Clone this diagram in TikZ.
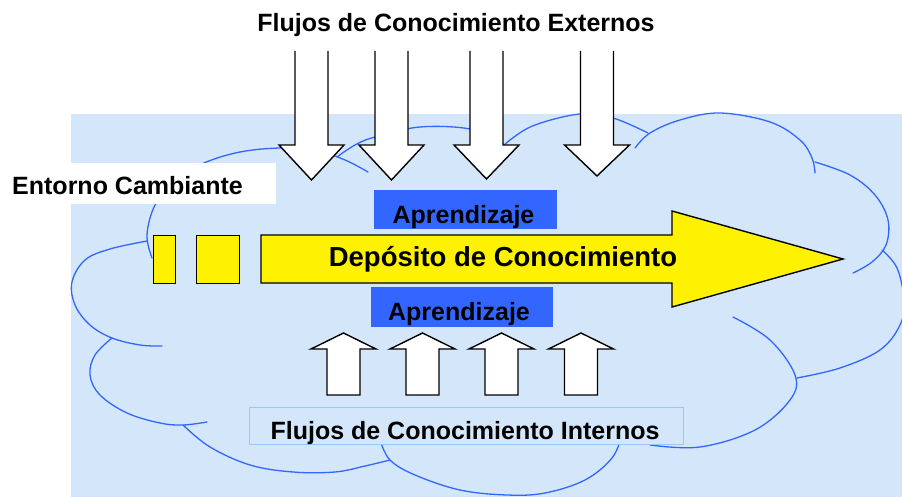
\documentclass[tikz,border=0pt]{standalone}
\usepackage{fontspec}
\setmainfont{Liberation Sans}
\begin{document}
\begin{tikzpicture}[x=1pt,y=-1pt,
  bgc/.style={fill=bgblue,draw=none},
  cloudline/.style={draw=cloudblue,line width=1.3pt,line cap=round},
  whitearrow/.style={fill=white,draw=black,line width=1.4pt,line join=miter},
  yel/.style={fill=yellow,draw=black,line width=1.4pt},
  lbl/.style={font=\bfseries\fontsize{25}{30}\selectfont,inner sep=0pt,anchor=base},
  aprbox/.style={fill=aprblue,draw=none,inner sep=0pt}]
\definecolor{bgblue}{RGB}{212,230,249}
\definecolor{cloudblue}{RGB}{51,102,255}
\definecolor{aprblue}{RGB}{51,102,255}
\definecolor{boxborder}{RGB}{150,200,255}
\useasboundingbox (0,0) rectangle (902,497);
\fill[white] (0,0) rectangle (902,497);
% background
\path[bgc] (71,114) rectangle (902,497);
% cloud
\begin{scope}
\clip (0,0) rectangle (902,497);
\draw[cloudline] plot[smooth,tension=0.6] coordinates {(152,258) (147,235) (155,205) (175,180) (204,163) (240,152) (280,148) (315,150) (345,160) (368,172)};
\draw[cloudline] plot[smooth,tension=0.6] coordinates {(337,157) (355,145) (375,137) (420,127) (470,129) (500,142) (510,150)};
\draw[cloudline] plot[smooth,tension=0.6] coordinates {(500,150) (510,140) (535,125) (580,114) (613,118) (648,133)};
\draw[cloudline] plot[smooth,tension=0.6] coordinates {(635,148) (650,133) (680,120) (720,113) (770,122) (800,140) (812,158) (815,173)};
\draw[cloudline] plot[smooth,tension=0.6] coordinates {(815,162) (850,175) (875,195) (888,220) (886,245) (872,262) (853,273)};
\draw[cloudline] plot[smooth,tension=0.6] coordinates {(882,250) (897,268) (904,300) (900,325) (880,350) (840,368) (797,378)};
\draw[cloudline] plot[smooth,tension=0.6] coordinates {(733,317) (770,340) (795,375) (790,400) (755,430) (700,447) (650,445)};
\draw[cloudline] plot[smooth,tension=0.6] coordinates {(622,435) (612,458) (585,480) (545,493) (507,495) (460,490) (415,475) (390,460) (380,440)};
\draw[cloudline] plot[smooth,tension=0.6] coordinates {(183,425) (210,447) (250,465) (293,472) (335,472) (365,466) (390,460)};
\draw[cloudline] plot[smooth,tension=0.6] coordinates {(112,338) (95,355) (90,375) (100,395) (127,413) (160,423) (183,425) (207,422)};
\draw[cloudline] plot[smooth,tension=0.6] coordinates {(147,241) (110,249) (85,260) (72,282) (75,305) (90,325) (112,338) (140,345) (162,346)};
\end{scope}
% Entorno box
\node[fill=white,inner sep=0pt,minimum width=276pt,minimum height=41pt,anchor=north west] (entbox) at (0,163) {};
\node[lbl,anchor=base west] (entorno) at (12,195) {Entorno Cambiante};
% title
\node[lbl] (titulo) at (456,32) {Flujos de Conocimiento Externos};
% down arrows
\foreach \c/\t [count=\i] in {311.5/180,391.5/180,486.5/179,597/176}{
  \draw[whitearrow] (\c-16.5,51) -- (\c-16.5,145) -- (\c-32.5,145) -- (\c,\t) -- (\c+32.5,145) -- (\c+16.5,145) -- (\c+16.5,51);
}
% Aprendizaje top
\node[aprbox,minimum width=183pt,minimum height=39pt,anchor=north west] (aprtopbox) at (374,190) {};
\node[lbl] (aprtop) at (463.5,223) {Aprendizaje};
% yellow blocks
\node[yel,inner sep=0pt,minimum width=22pt,minimum height=48pt,anchor=north west] (sq1) at (153,235) {};
\node[yel,inner sep=0pt,minimum width=43pt,minimum height=48pt,anchor=north west] (sq2) at (196,235) {};
\draw[yel,line join=miter] (261,235) -- (672,235) -- (672,211) -- (843,259) -- (672,307) -- (672,283) -- (261,283) -- cycle;
\node[lbl,font=\bfseries\fontsize{27.5}{32}\selectfont] (deposito) at (503,266) {Depósito de Conocimiento};
% Aprendizaje bottom
\node[aprbox,minimum width=182pt,minimum height=40pt,anchor=north west] (aprbotbox) at (371,287) {};
\node[lbl] (aprbot) at (459,320) {Aprendizaje};
% up arrows
\foreach \c in {343.5,422.5,501.5,581}{
  \draw[whitearrow] (\c-16.5,395) -- (\c-16.5,349) -- (\c-32.5,349) -- (\c,333) -- (\c+32.5,349) -- (\c+16.5,349) -- (\c+16.5,395) -- cycle;
}
% internos box
\node[fill=bgblue,draw=boxborder,line width=1.3pt,inner sep=0pt,minimum width=434pt,minimum height=37pt,anchor=north west] (intbox) at (249,407) {};
\node[lbl] (internos) at (465,439) {Flujos de Conocimiento Internos};
\end{tikzpicture}
\end{document}
